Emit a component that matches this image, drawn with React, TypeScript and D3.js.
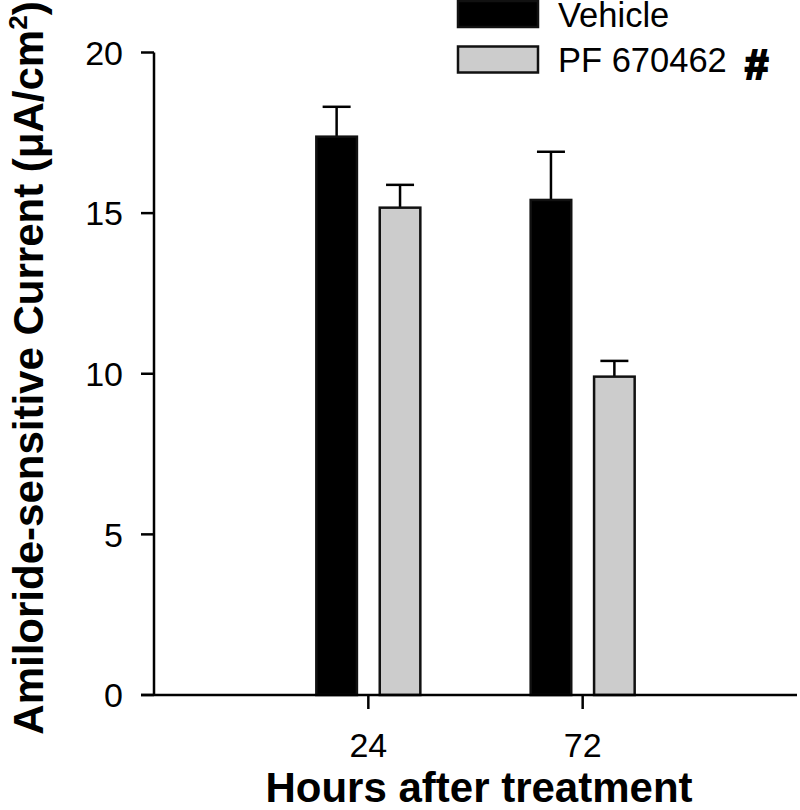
import * as d3 from 'd3'

const hours = ['24', '72']
const seriesNames = ['Vehicle', 'PF 670462']
const vehicleMean = [17.38, 15.41]
const vehicleErr = [0.93, 1.5]
const pfMean = [15.17, 9.91]
const pfErr = [0.71, 0.49]
const yTicks = [0, 5, 10, 15, 20]

const FONT = '"Liberation Sans", Arial, sans-serif'
const fills = ['#000000', '#cccccc']

export default function App() {
  const W = 800
  const H = 810
  const left = 154
  const right = 797
  const top = 52.5
  const bottom = 695

  const y = d3.scaleLinear().domain([0, 20]).range([bottom, top])
  const x0 = d3.scaleBand().domain(hours).range([left, right]).paddingInner(0).paddingOuter(0.5)
  const x1 = d3.scaleBand().domain(seriesNames).range([-52, 52]).paddingInner(0.36)

  // flatten into bars
  const bars = hours.flatMap((h, i) => [
    { h, s: seriesNames[0], v: vehicleMean[i], e: vehicleErr[i], fill: fills[0] },
    { h, s: seriesNames[1], v: pfMean[i], e: pfErr[i], fill: fills[1] },
  ])

  const cx = (h: string) => (x0(h) || 0) + x0.bandwidth() / 2
  const bw = x1.bandwidth()
  const capHalf = 14

  return (
    <svg width={W} height={H} style={{ position: 'absolute', left: 0, top: 0, background: '#fff' }} fontFamily={FONT}>
      {/* bars */}
      {bars.map((b) => {
        const bx = cx(b.h) + (x1(b.s) || 0)
        const mid = bx + bw / 2
        return (
          <g key={b.h + b.s}>
            <line x1={mid} x2={mid} y1={y(b.v)} y2={y(b.v + b.e)} stroke="#000" strokeWidth={2.5} />
            <line x1={mid - capHalf} x2={mid + capHalf} y1={y(b.v + b.e)} y2={y(b.v + b.e)} stroke="#000" strokeWidth={2.5} />
            <rect
              x={bx}
              y={y(b.v)}
              width={bw}
              height={y(0) - y(b.v)}
              fill={b.fill}
              stroke="#111"
              strokeWidth={2.5}
            />
          </g>
        )
      })}

      {/* y axis */}
      <line x1={left} x2={left} y1={bottom} y2={top} stroke="#000" strokeWidth={2.5} />
      {yTicks.map((t) => (
        <g key={t}>
          <line x1={left - 13} x2={left} y1={y(t)} y2={y(t)} stroke="#000" strokeWidth={2.5} />
          <text x={left - 31} y={y(t)} dy="0.36em" textAnchor="end" fontSize={34} fill="#000">
            {t}
          </text>
        </g>
      ))}

      {/* x axis */}
      <line x1={left - 13} x2={right} y1={bottom} y2={bottom} stroke="#000" strokeWidth={2.5} />
      {hours.map((h) => (
        <g key={h}>
          <line x1={cx(h)} x2={cx(h)} y1={bottom} y2={bottom + 14} stroke="#000" strokeWidth={2.5} />
          <text x={cx(h)} y={757} textAnchor="middle" fontSize={34} fill="#000">
            {h}
          </text>
        </g>
      ))}

      {/* axis titles */}
      <text x={479} y={802} textAnchor="middle" fontSize={42} fontWeight="bold" fill="#000">
        Hours after treatment
      </text>
      <text transform="rotate(-90)" x={-368} y={43} textAnchor="middle" fontSize={42} fontWeight="bold" fill="#000">
        Amiloride-sensitive Current (μA/cm
        <tspan fontSize={26} dy={-16}>2</tspan>
        <tspan dy={16}>)</tspan>
      </text>

      {/* legend */}
      {seriesNames.map((s, i) => (
        <g key={s}>
          <rect
            x={458}
            y={1 + i * 45.5}
            width={80}
            height={26}
            fill={fills[i]}
            stroke="#111"
            strokeWidth={2.5}
          />
          <text x={558} y={27 + i * 44.5} fontSize={34.5} fill="#000">
            {s}
          </text>
        </g>
      ))}
      <text x={745} y={79} fontSize={42} fontWeight="bold" fill="#000" stroke="#000" strokeWidth={2.2}>
        #
      </text>
    </svg>
  )
}
